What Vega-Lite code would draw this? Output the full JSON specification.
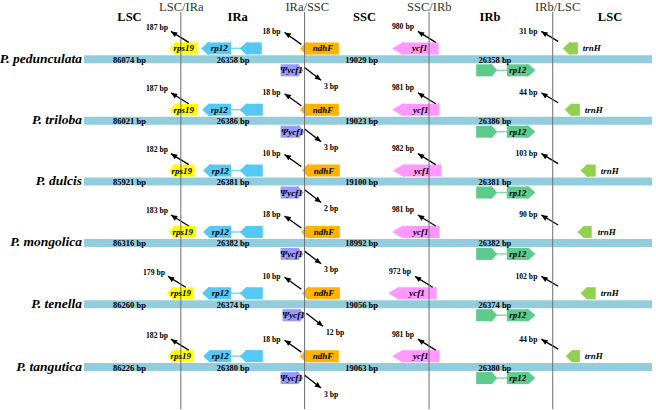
{
  "$schema": "https://vega.github.io/schema/vega-lite/v6.json",
  "width": 656,
  "height": 410,
  "autosize": {"type": "fit", "contains": "padding"},
  "padding": 0,
  "background": "white",
  "config": {"view": {"stroke": null}, "text": {"font": "Liberation Serif", "color": "#000"}},
  "datasets": {
    "rows": [
      {"sp": "P. pedunculata", "y": 59.5, "start": 81, "end": 656},
      {"sp": "P. triloba", "y": 121, "start": 81, "end": 656},
      {"sp": "P. dulcis", "y": 182, "start": 81, "end": 656},
      {"sp": "P. mongolica", "y": 243.5, "start": 81, "end": 656},
      {"sp": "P. tenella", "y": 305, "start": 81, "end": 656},
      {"sp": "P. tangutica", "y": 368, "start": 81, "end": 656}
    ],
    "genes": [
      {"sp": "P. pedunculata", "gene": "rps19", "x1": 173, "x2": 196, "y": 48.5, "tip": 173},
      {"sp": "P. pedunculata", "gene": "rp12a", "x1": 206, "x2": 230, "y": 48.5, "tip": 206},
      {"sp": "P. pedunculata", "gene": "rp12b", "x1": 245, "x2": 261, "y": 48.5, "tip": 245},
      {"sp": "P. pedunculata", "gene": "ndhF", "x1": 305, "x2": 339, "y": 48.5, "tip": 305},
      {"sp": "P. pedunculata", "gene": "psi", "x1": 280, "x2": 298, "y": 70.5, "tip": 298},
      {"sp": "P. pedunculata", "gene": "ycf1", "x1": 403, "x2": 440, "y": 48.5, "tip": 403},
      {"sp": "P. pedunculata", "gene": "rp12g1", "x1": 478, "x2": 494, "y": 70.5, "tip": 494},
      {"sp": "P. pedunculata", "gene": "rp12g2", "x1": 509, "x2": 531, "y": 70.5, "tip": 531},
      {"sp": "P. pedunculata", "gene": "trnH", "x1": 572, "x2": 581, "y": 48.5, "tip": 572},

      {"sp": "P. triloba", "gene": "rps19", "x1": 173, "x2": 196, "y": 110, "tip": 173},
      {"sp": "P. triloba", "gene": "rp12a", "x1": 207, "x2": 230, "y": 110, "tip": 207},
      {"sp": "P. triloba", "gene": "rp12b", "x1": 245, "x2": 262, "y": 110, "tip": 245},
      {"sp": "P. triloba", "gene": "ndhF", "x1": 305, "x2": 339, "y": 110, "tip": 305},
      {"sp": "P. triloba", "gene": "psi", "x1": 280, "x2": 299, "y": 132, "tip": 299},
      {"sp": "P. triloba", "gene": "ycf1", "x1": 403, "x2": 441, "y": 110, "tip": 403},
      {"sp": "P. triloba", "gene": "rp12g1", "x1": 478, "x2": 494, "y": 132, "tip": 494},
      {"sp": "P. triloba", "gene": "rp12g2", "x1": 509, "x2": 531, "y": 132, "tip": 531},
      {"sp": "P. triloba", "gene": "trnH", "x1": 574, "x2": 583, "y": 110, "tip": 574},

      {"sp": "P. dulcis", "gene": "rps19", "x1": 172, "x2": 193, "y": 171, "tip": 172},
      {"sp": "P. dulcis", "gene": "rp12a", "x1": 208, "x2": 230, "y": 171, "tip": 208},
      {"sp": "P. dulcis", "gene": "rp12b", "x1": 245, "x2": 262, "y": 171, "tip": 245},
      {"sp": "P. dulcis", "gene": "ndhF", "x1": 307, "x2": 340, "y": 171, "tip": 307},
      {"sp": "P. dulcis", "gene": "psi", "x1": 280, "x2": 298, "y": 193, "tip": 298},
      {"sp": "P. dulcis", "gene": "ycf1", "x1": 404, "x2": 443, "y": 171, "tip": 404},
      {"sp": "P. dulcis", "gene": "rp12g1", "x1": 478, "x2": 494, "y": 193, "tip": 494},
      {"sp": "P. dulcis", "gene": "rp12g2", "x1": 509, "x2": 531, "y": 193, "tip": 531},
      {"sp": "P. dulcis", "gene": "trnH", "x1": 590, "x2": 599, "y": 171, "tip": 590},

      {"sp": "P. mongolica", "gene": "rps19", "x1": 172, "x2": 194, "y": 232.5, "tip": 172},
      {"sp": "P. mongolica", "gene": "rp12a", "x1": 208, "x2": 230, "y": 232.5, "tip": 208},
      {"sp": "P. mongolica", "gene": "rp12b", "x1": 245, "x2": 262, "y": 232.5, "tip": 245},
      {"sp": "P. mongolica", "gene": "ndhF", "x1": 306, "x2": 340, "y": 232.5, "tip": 306},
      {"sp": "P. mongolica", "gene": "psi", "x1": 280, "x2": 298, "y": 254.5, "tip": 298},
      {"sp": "P. mongolica", "gene": "ycf1", "x1": 403, "x2": 441, "y": 232.5, "tip": 403},
      {"sp": "P. mongolica", "gene": "rp12g1", "x1": 478, "x2": 494, "y": 254.5, "tip": 494},
      {"sp": "P. mongolica", "gene": "rp12g2", "x1": 509, "x2": 531, "y": 254.5, "tip": 531},
      {"sp": "P. mongolica", "gene": "trnH", "x1": 587, "x2": 595, "y": 232.5, "tip": 587},

      {"sp": "P. tenella", "gene": "rps19", "x1": 170, "x2": 192, "y": 294, "tip": 170},
      {"sp": "P. tenella", "gene": "rp12a", "x1": 207, "x2": 230, "y": 294, "tip": 207},
      {"sp": "P. tenella", "gene": "rp12b", "x1": 245, "x2": 262, "y": 294, "tip": 245},
      {"sp": "P. tenella", "gene": "ndhF", "x1": 307, "x2": 340, "y": 294, "tip": 307},
      {"sp": "P. tenella", "gene": "psi", "x1": 282, "x2": 300, "y": 316, "tip": 300},
      {"sp": "P. tenella", "gene": "ycf1", "x1": 399, "x2": 438, "y": 294, "tip": 399},
      {"sp": "P. tenella", "gene": "rp12g1", "x1": 478, "x2": 494, "y": 316, "tip": 494},
      {"sp": "P. tenella", "gene": "rp12g2", "x1": 509, "x2": 531, "y": 316, "tip": 531},
      {"sp": "P. tenella", "gene": "trnH", "x1": 590, "x2": 599, "y": 294, "tip": 590},

      {"sp": "P. tangutica", "gene": "rps19", "x1": 171, "x2": 192, "y": 357, "tip": 171},
      {"sp": "P. tangutica", "gene": "rp12a", "x1": 208, "x2": 230, "y": 357, "tip": 208},
      {"sp": "P. tangutica", "gene": "rp12b", "x1": 245, "x2": 262, "y": 357, "tip": 245},
      {"sp": "P. tangutica", "gene": "ndhF", "x1": 305, "x2": 339, "y": 357, "tip": 305},
      {"sp": "P. tangutica", "gene": "psi", "x1": 280, "x2": 298, "y": 379, "tip": 298},
      {"sp": "P. tangutica", "gene": "ycf1", "x1": 403, "x2": 441, "y": 357, "tip": 403},
      {"sp": "P. tangutica", "gene": "rp12g1", "x1": 478, "x2": 494, "y": 379, "tip": 494},
      {"sp": "P. tangutica", "gene": "rp12g2", "x1": 509, "x2": 531, "y": 379, "tip": 531},
      {"sp": "P. tangutica", "gene": "trnH", "x1": 575, "x2": 583, "y": 357, "tip": 575}
    ],
    "links": [
      {"sp": "P. pedunculata", "kind": "linkA", "x1": 230, "x2": 240, "y": 48.5},
      {"sp": "P. pedunculata", "kind": "linkG", "x1": 498, "x2": 509, "y": 70.5},
      {"sp": "P. triloba", "kind": "linkA", "x1": 230, "x2": 240, "y": 110},
      {"sp": "P. triloba", "kind": "linkG", "x1": 498, "x2": 509, "y": 132},
      {"sp": "P. dulcis", "kind": "linkA", "x1": 230, "x2": 240, "y": 171},
      {"sp": "P. dulcis", "kind": "linkG", "x1": 498, "x2": 509, "y": 193},
      {"sp": "P. mongolica", "kind": "linkA", "x1": 230, "x2": 240, "y": 232.5},
      {"sp": "P. mongolica", "kind": "linkG", "x1": 498, "x2": 509, "y": 254.5},
      {"sp": "P. tenella", "kind": "linkA", "x1": 230, "x2": 240, "y": 294},
      {"sp": "P. tenella", "kind": "linkG", "x1": 498, "x2": 509, "y": 316},
      {"sp": "P. tangutica", "kind": "linkA", "x1": 230, "x2": 240, "y": 357},
      {"sp": "P. tangutica", "kind": "linkG", "x1": 498, "x2": 509, "y": 379}
    ],
    "arrows": [
      {"sp": "P. pedunculata", "dir": "up", "x1": 187, "y1": 42.5, "x2": 169, "y2": 31.5, "text": "187 bp", "lx": 166, "ly": 27.5},
      {"sp": "P. pedunculata", "dir": "up", "x1": 301, "y1": 44.5, "x2": 284, "y2": 32.5, "text": "18 bp", "lx": 280, "ly": 31.5},
      {"sp": "P. pedunculata", "dir": "down", "x1": 304, "y1": 67.5, "x2": 321, "y2": 80.5, "text": "3 bp", "lx": 324, "ly": 86.5},
      {"sp": "P. pedunculata", "dir": "up", "x1": 437, "y1": 42.5, "x2": 419, "y2": 31.5, "text": "980 bp", "lx": 415, "ly": 26.5},
      {"sp": "P. pedunculata", "dir": "up", "x1": 561, "y1": 41.5, "x2": 544, "y2": 31.5, "text": "31 bp", "lx": 540, "ly": 31.5},

      {"sp": "P. triloba", "dir": "up", "x1": 187, "y1": 104, "x2": 169, "y2": 93, "text": "187 bp", "lx": 166, "ly": 89},
      {"sp": "P. triloba", "dir": "up", "x1": 301, "y1": 106, "x2": 284, "y2": 94, "text": "18 bp", "lx": 280, "ly": 93},
      {"sp": "P. triloba", "dir": "down", "x1": 304, "y1": 129, "x2": 321, "y2": 142, "text": "3 bp", "lx": 324, "ly": 148},
      {"sp": "P. triloba", "dir": "up", "x1": 437, "y1": 104, "x2": 419, "y2": 93, "text": "981 bp", "lx": 415, "ly": 88},
      {"sp": "P. triloba", "dir": "up", "x1": 561, "y1": 103, "x2": 544, "y2": 93, "text": "44 bp", "lx": 540, "ly": 93},

      {"sp": "P. dulcis", "dir": "up", "x1": 187, "y1": 165, "x2": 169, "y2": 154, "text": "182 bp", "lx": 166, "ly": 150},
      {"sp": "P. dulcis", "dir": "up", "x1": 301, "y1": 167, "x2": 284, "y2": 155, "text": "10 bp", "lx": 280, "ly": 154},
      {"sp": "P. dulcis", "dir": "down", "x1": 304, "y1": 190, "x2": 321, "y2": 203, "text": "2 bp", "lx": 324, "ly": 209},
      {"sp": "P. dulcis", "dir": "up", "x1": 437, "y1": 165, "x2": 419, "y2": 154, "text": "982 bp", "lx": 415, "ly": 149},
      {"sp": "P. dulcis", "dir": "up", "x1": 561, "y1": 164, "x2": 544, "y2": 154, "text": "103 bp", "lx": 540, "ly": 154},

      {"sp": "P. mongolica", "dir": "up", "x1": 187, "y1": 226.5, "x2": 169, "y2": 215.5, "text": "183 bp", "lx": 166, "ly": 211.5},
      {"sp": "P. mongolica", "dir": "up", "x1": 301, "y1": 228.5, "x2": 284, "y2": 216.5, "text": "18 bp", "lx": 280, "ly": 215.5},
      {"sp": "P. mongolica", "dir": "down", "x1": 304, "y1": 251.5, "x2": 321, "y2": 264.5, "text": "3 bp", "lx": 324, "ly": 270.5},
      {"sp": "P. mongolica", "dir": "up", "x1": 437, "y1": 226.5, "x2": 419, "y2": 215.5, "text": "981 bp", "lx": 415, "ly": 210.5},
      {"sp": "P. mongolica", "dir": "up", "x1": 561, "y1": 225.5, "x2": 544, "y2": 215.5, "text": "90 bp", "lx": 540, "ly": 215.5},

      {"sp": "P. tenella", "dir": "up", "x1": 184, "y1": 288, "x2": 166, "y2": 277, "text": "179 bp", "lx": 163, "ly": 273},
      {"sp": "P. tenella", "dir": "up", "x1": 301, "y1": 290, "x2": 284, "y2": 278, "text": "10 bp", "lx": 280, "ly": 277},
      {"sp": "P. tenella", "dir": "down", "x1": 306, "y1": 314, "x2": 323, "y2": 327, "text": "12 bp", "lx": 326, "ly": 333},
      {"sp": "P. tenella", "dir": "up", "x1": 434, "y1": 288, "x2": 416, "y2": 277, "text": "972 bp", "lx": 412, "ly": 272},
      {"sp": "P. tenella", "dir": "up", "x1": 561, "y1": 287, "x2": 544, "y2": 277, "text": "102 bp", "lx": 540, "ly": 277},

      {"sp": "P. tangutica", "dir": "up", "x1": 187, "y1": 351, "x2": 169, "y2": 340, "text": "182 bp", "lx": 166, "ly": 336},
      {"sp": "P. tangutica", "dir": "up", "x1": 301, "y1": 353, "x2": 284, "y2": 341, "text": "18 bp", "lx": 280, "ly": 340},
      {"sp": "P. tangutica", "dir": "down", "x1": 304, "y1": 376, "x2": 321, "y2": 389, "text": "3 bp", "lx": 324, "ly": 395},
      {"sp": "P. tangutica", "dir": "up", "x1": 437, "y1": 351, "x2": 419, "y2": 340, "text": "981 bp", "lx": 415, "ly": 335},
      {"sp": "P. tangutica", "dir": "up", "x1": 561, "y1": 350, "x2": 544, "y2": 340, "text": "44 bp", "lx": 540, "ly": 340}
    ],
    "glabels": [
      {"sp": "P. pedunculata", "pos": "c", "text": "rps19", "x": 182, "y": 48.5},
      {"sp": "P. pedunculata", "pos": "c", "text": "rp12", "x": 218, "y": 48.5},
      {"sp": "P. pedunculata", "pos": "c", "text": "ndhF", "x": 323, "y": 48.5},
      {"sp": "P. pedunculata", "pos": "c", "text": "Ψycf1", "x": 291, "y": 70.5},
      {"sp": "P. pedunculata", "pos": "c", "text": "ycf1", "x": 421, "y": 48.5},
      {"sp": "P. pedunculata", "pos": "c", "text": "rp12", "x": 520, "y": 70.5},
      {"sp": "P. pedunculata", "pos": "l", "text": "trnH", "x": 586, "y": 48.5},

      {"sp": "P. triloba", "pos": "c", "text": "rps19", "x": 182, "y": 110},
      {"sp": "P. triloba", "pos": "c", "text": "rp12", "x": 218, "y": 110},
      {"sp": "P. triloba", "pos": "c", "text": "ndhF", "x": 323, "y": 110},
      {"sp": "P. triloba", "pos": "c", "text": "Ψycf1", "x": 292, "y": 132},
      {"sp": "P. triloba", "pos": "c", "text": "ycf1", "x": 422, "y": 110},
      {"sp": "P. triloba", "pos": "c", "text": "rp12", "x": 520, "y": 132},
      {"sp": "P. triloba", "pos": "l", "text": "trnH", "x": 588, "y": 110},

      {"sp": "P. dulcis", "pos": "c", "text": "rps19", "x": 180, "y": 171},
      {"sp": "P. dulcis", "pos": "c", "text": "rp12", "x": 219, "y": 171},
      {"sp": "P. dulcis", "pos": "c", "text": "ndhF", "x": 324, "y": 171},
      {"sp": "P. dulcis", "pos": "c", "text": "Ψycf1", "x": 291, "y": 193},
      {"sp": "P. dulcis", "pos": "c", "text": "ycf1", "x": 423, "y": 171},
      {"sp": "P. dulcis", "pos": "c", "text": "rp12", "x": 520, "y": 193},
      {"sp": "P. dulcis", "pos": "l", "text": "trnH", "x": 604, "y": 171},

      {"sp": "P. mongolica", "pos": "c", "text": "rps19", "x": 181, "y": 232.5},
      {"sp": "P. mongolica", "pos": "c", "text": "rp12", "x": 219, "y": 232.5},
      {"sp": "P. mongolica", "pos": "c", "text": "ndhF", "x": 324, "y": 232.5},
      {"sp": "P. mongolica", "pos": "c", "text": "Ψycf1", "x": 291, "y": 254.5},
      {"sp": "P. mongolica", "pos": "c", "text": "ycf1", "x": 422, "y": 232.5},
      {"sp": "P. mongolica", "pos": "c", "text": "rp12", "x": 520, "y": 254.5},
      {"sp": "P. mongolica", "pos": "l", "text": "trnH", "x": 601, "y": 232.5},

      {"sp": "P. tenella", "pos": "c", "text": "rps19", "x": 179, "y": 294},
      {"sp": "P. tenella", "pos": "c", "text": "rp12", "x": 219, "y": 294},
      {"sp": "P. tenella", "pos": "c", "text": "ndhF", "x": 324, "y": 294},
      {"sp": "P. tenella", "pos": "c", "text": "Ψycf1", "x": 293, "y": 316},
      {"sp": "P. tenella", "pos": "c", "text": "ycf1", "x": 418, "y": 294},
      {"sp": "P. tenella", "pos": "c", "text": "rp12", "x": 520, "y": 316},
      {"sp": "P. tenella", "pos": "l", "text": "trnH", "x": 604, "y": 294},

      {"sp": "P. tangutica", "pos": "c", "text": "rps19", "x": 179, "y": 357},
      {"sp": "P. tangutica", "pos": "c", "text": "rp12", "x": 219, "y": 357},
      {"sp": "P. tangutica", "pos": "c", "text": "ndhF", "x": 323, "y": 357},
      {"sp": "P. tangutica", "pos": "c", "text": "Ψycf1", "x": 291, "y": 379},
      {"sp": "P. tangutica", "pos": "c", "text": "ycf1", "x": 422, "y": 357},
      {"sp": "P. tangutica", "pos": "c", "text": "rp12", "x": 520, "y": 379},
      {"sp": "P. tangutica", "pos": "l", "text": "trnH", "x": 588, "y": 357}
    ],
    "lengths": [
      {"sp": "P. pedunculata", "text": "86074 bp", "x": 127, "y": 60},
      {"sp": "P. pedunculata", "text": "26358 bp", "x": 232, "y": 60},
      {"sp": "P. pedunculata", "text": "19029 bp", "x": 362, "y": 60},
      {"sp": "P. pedunculata", "text": "26358 bp", "x": 497, "y": 60},
      {"sp": "P. triloba", "text": "86021 bp", "x": 127, "y": 121.5},
      {"sp": "P. triloba", "text": "26386 bp", "x": 232, "y": 121.5},
      {"sp": "P. triloba", "text": "19023 bp", "x": 362, "y": 121.5},
      {"sp": "P. triloba", "text": "26386 bp", "x": 497, "y": 121.5},
      {"sp": "P. dulcis", "text": "85921 bp", "x": 127, "y": 182.5},
      {"sp": "P. dulcis", "text": "26381 bp", "x": 232, "y": 182.5},
      {"sp": "P. dulcis", "text": "19100 bp", "x": 362, "y": 182.5},
      {"sp": "P. dulcis", "text": "26381 bp", "x": 497, "y": 182.5},
      {"sp": "P. mongolica", "text": "86316 bp", "x": 127, "y": 244},
      {"sp": "P. mongolica", "text": "26382 bp", "x": 232, "y": 244},
      {"sp": "P. mongolica", "text": "18992 bp", "x": 362, "y": 244},
      {"sp": "P. mongolica", "text": "26382 bp", "x": 497, "y": 244},
      {"sp": "P. tenella", "text": "86260 bp", "x": 127, "y": 305.5},
      {"sp": "P. tenella", "text": "26374 bp", "x": 232, "y": 305.5},
      {"sp": "P. tenella", "text": "19056 bp", "x": 362, "y": 305.5},
      {"sp": "P. tenella", "text": "26374 bp", "x": 497, "y": 305.5},
      {"sp": "P. tangutica", "text": "86226 bp", "x": 127, "y": 368.5},
      {"sp": "P. tangutica", "text": "26380 bp", "x": 232, "y": 368.5},
      {"sp": "P. tangutica", "text": "19063 bp", "x": 362, "y": 368.5},
      {"sp": "P. tangutica", "text": "26380 bp", "x": 497, "y": 368.5}
    ],
    "bounds": [
      {"name": "LSC/IRa", "x": 179, "top": 12, "bottom": 410, "hx": 179.5, "hy": 11.5},
      {"name": "IRa/SSC", "x": 304.3, "top": 12, "bottom": 410, "hx": 307, "hy": 11.5},
      {"name": "SSC/IRb", "x": 430.3, "top": 12, "bottom": 410, "hx": 430.5, "hy": 11.5},
      {"name": "IRb/LSC", "x": 555.5, "top": 12, "bottom": 410, "hx": 560.5, "hy": 11.5}
    ],
    "regions": [
      {"name": "LSC", "x": 127, "y": 21.5},
      {"name": "IRa", "x": 236.5, "y": 21.5},
      {"name": "SSC", "x": 365, "y": 21.5},
      {"name": "IRb", "x": 492, "y": 21.5},
      {"name": "LSC", "x": 613.5, "y": 21.5}
    ]
  },
  "layer": [
    {
      "data": {"name": "rows"},
      "mark": {"type": "rule", "strokeWidth": 8, "strokeCap": "butt", "color": "#93CDDD"},
      "encoding": {
        "x": {"field": "start", "type": "quantitative", "scale": {"domain": [0, 656], "nice": false, "zero": false}, "axis": null},
        "x2": {"field": "end"},
        "y": {"field": "y", "type": "quantitative", "scale": {"domain": [0, 410], "reverse": true, "nice": false, "zero": false}, "axis": null}
      }
    },
    {
      "data": {"name": "links"},
      "mark": {"type": "rule", "strokeWidth": 1.5, "strokeCap": "butt"},
      "encoding": {
        "x": {"field": "x1", "type": "quantitative", "scale": {"domain": [0, 656], "nice": false, "zero": false}, "axis": null},
        "x2": {"field": "x2"},
        "y": {"field": "y", "type": "quantitative", "scale": {"domain": [0, 410], "reverse": true, "nice": false, "zero": false}, "axis": null},
        "color": {"field": "kind", "type": "nominal", "scale": {"domain": ["rps19", "rp12a", "rp12b", "ndhF", "psi", "ycf1", "rp12g1", "rp12g2", "trnH", "linkA", "linkG"], "range": ["#FFFF00", "#55C8F5", "#55C8F5", "#FFB300", "#9999FF", "#FF99FF", "#5DCB8C", "#5DCB8C", "#92D050", "#7FD6F7", "#86DBA8"]}, "legend": null}
      }
    },
    {
      "data": {"name": "genes"},
      "mark": {"type": "rule", "strokeWidth": 12, "strokeCap": "butt"},
      "encoding": {
        "x": {"field": "x1", "type": "quantitative", "scale": {"domain": [0, 656], "nice": false, "zero": false}, "axis": null},
        "x2": {"field": "x2"},
        "y": {"field": "y", "type": "quantitative", "scale": {"domain": [0, 410], "reverse": true, "nice": false, "zero": false}, "axis": null},
        "color": {"field": "gene", "type": "nominal", "scale": {"domain": ["rps19", "rp12a", "rp12b", "ndhF", "psi", "ycf1", "rp12g1", "rp12g2", "trnH", "linkA", "linkG"], "range": ["#FFFF00", "#55C8F5", "#55C8F5", "#FFB300", "#9999FF", "#FF99FF", "#5DCB8C", "#5DCB8C", "#92D050", "#7FD6F7", "#86DBA8"]}, "legend": null}
      }
    },
    {
      "data": {"name": "genes"},
      "mark": {"type": "point", "filled": true, "size": 144, "opacity": 1, "strokeWidth": 0},
      "encoding": {
        "x": {"field": "tip", "type": "quantitative", "scale": {"domain": [0, 656], "nice": false, "zero": false}, "axis": null},
        "y": {"field": "y", "type": "quantitative", "scale": {"domain": [0, 410], "reverse": true, "nice": false, "zero": false}, "axis": null},
        "color": {"field": "gene", "type": "nominal", "scale": {"domain": ["rps19", "rp12a", "rp12b", "ndhF", "psi", "ycf1", "rp12g1", "rp12g2", "trnH", "linkA", "linkG"], "range": ["#FFFF00", "#55C8F5", "#55C8F5", "#FFB300", "#9999FF", "#FF99FF", "#5DCB8C", "#5DCB8C", "#92D050", "#7FD6F7", "#86DBA8"]}, "legend": null},
        "shape": {"field": "gene", "type": "nominal", "legend": null, "scale": {"domain": ["rps19", "rp12a", "rp12b", "ndhF", "psi", "ycf1", "rp12g1", "rp12g2", "trnH"], "range": [
          "M0.4,-1L0,-1L-0.85,0L0,1L0.4,1Z",
          "M0.4,-1L0,-1L-1.05,0L0,1L0.4,1Z",
          "M0.4,-1L0,-1L-1.05,0L0,1L0.4,1Z",
          "M0.4,-1L0,-1L-0.85,0L0,1L0.4,1Z",
          "M-0.4,-1L0,-1L0.85,0L0,1L-0.4,1Z",
          "M0.4,-1L0,-1L-1.65,0L0,1L0.4,1Z",
          "M-0.4,-1L0,-1L0.85,0L0,1L-0.4,1Z",
          "M-0.4,-1L0,-1L1.15,0L0,1L-0.4,1Z",
          "M0.4,-1L0,-1L-1.05,0L0,1L0.4,1Z"
        ]}}
      }
    },
    {
      "data": {"name": "arrows"},
      "mark": {"type": "rule", "strokeWidth": 1.3, "color": "#000"},
      "encoding": {
        "x": {"field": "x1", "type": "quantitative", "scale": {"domain": [0, 656], "nice": false, "zero": false}, "axis": null},
        "x2": {"field": "x2"},
        "y": {"field": "y1", "type": "quantitative", "scale": {"domain": [0, 410], "reverse": true, "nice": false, "zero": false}, "axis": null},
        "y2": {"field": "y2"}
      }
    },
    {
      "data": {"name": "arrows"},
      "transform": [{"filter": "datum.dir === 'up'"}],
      "mark": {"type": "point", "filled": true, "opacity": 1, "size": 70, "color": "#000", "strokeWidth": 0, "angle": -57, "shape": "M0,0L-0.65,1.5L0.65,1.5Z"},
      "encoding": {
        "x": {"field": "x2", "type": "quantitative", "scale": {"domain": [0, 656], "nice": false, "zero": false}, "axis": null},
        "y": {"field": "y2", "type": "quantitative", "scale": {"domain": [0, 410], "reverse": true, "nice": false, "zero": false}, "axis": null}
      }
    },
    {
      "data": {"name": "arrows"},
      "transform": [{"filter": "datum.dir === 'down'"}],
      "mark": {"type": "point", "filled": true, "opacity": 1, "size": 70, "color": "#000", "strokeWidth": 0, "angle": 127, "shape": "M0,0L-0.65,1.5L0.65,1.5Z"},
      "encoding": {
        "x": {"field": "x2", "type": "quantitative", "scale": {"domain": [0, 656], "nice": false, "zero": false}, "axis": null},
        "y": {"field": "y2", "type": "quantitative", "scale": {"domain": [0, 410], "reverse": true, "nice": false, "zero": false}, "axis": null}
      }
    },
    {
      "data": {"name": "bounds"},
      "mark": {"type": "rule", "strokeWidth": 1, "color": "#6E6E6E"},
      "encoding": {
        "x": {"field": "x", "type": "quantitative", "scale": {"domain": [0, 656], "nice": false, "zero": false}, "axis": null},
        "y": {"field": "top", "type": "quantitative", "scale": {"domain": [0, 410], "reverse": true, "nice": false, "zero": false}, "axis": null},
        "y2": {"field": "bottom"}
      }
    },
    {
      "data": {"name": "bounds"},
      "mark": {"type": "text", "fontSize": 12.5, "color": "#333", "align": "center", "baseline": "alphabetic"},
      "encoding": {
        "x": {"field": "hx", "type": "quantitative", "scale": {"domain": [0, 656], "nice": false, "zero": false}, "axis": null},
        "y": {"field": "hy", "type": "quantitative", "scale": {"domain": [0, 410], "reverse": true, "nice": false, "zero": false}, "axis": null},
        "text": {"field": "name"}
      }
    },
    {
      "data": {"name": "regions"},
      "mark": {"type": "text", "fontSize": 12.5, "fontWeight": "bold", "align": "center", "baseline": "alphabetic"},
      "encoding": {
        "x": {"field": "x", "type": "quantitative", "scale": {"domain": [0, 656], "nice": false, "zero": false}, "axis": null},
        "y": {"field": "y", "type": "quantitative", "scale": {"domain": [0, 410], "reverse": true, "nice": false, "zero": false}, "axis": null},
        "text": {"field": "name"}
      }
    },
    {
      "data": {"name": "rows"},
      "mark": {"type": "text", "fontSize": 13.5, "fontWeight": "bold", "fontStyle": "italic", "align": "right", "baseline": "alphabetic", "dx": -2, "dy": 3.5},
      "encoding": {
        "x": {"field": "start", "type": "quantitative", "scale": {"domain": [0, 656], "nice": false, "zero": false}, "axis": null},
        "y": {"field": "y", "type": "quantitative", "scale": {"domain": [0, 410], "reverse": true, "nice": false, "zero": false}, "axis": null},
        "text": {"field": "sp"}
      }
    },
    {
      "data": {"name": "lengths"},
      "mark": {"type": "text", "fontSize": 8.5, "fontWeight": "bold", "align": "center", "baseline": "alphabetic", "dy": 3},
      "encoding": {
        "x": {"field": "x", "type": "quantitative", "scale": {"domain": [0, 656], "nice": false, "zero": false}, "axis": null},
        "y": {"field": "y", "type": "quantitative", "scale": {"domain": [0, 410], "reverse": true, "nice": false, "zero": false}, "axis": null},
        "text": {"field": "text"}
      }
    },
    {
      "data": {"name": "glabels"},
      "transform": [{"filter": "datum.pos === 'c'"}],
      "mark": {"type": "text", "fontSize": 9, "fontWeight": "bold", "fontStyle": "italic", "align": "center", "baseline": "alphabetic", "dy": 3},
      "encoding": {
        "x": {"field": "x", "type": "quantitative", "scale": {"domain": [0, 656], "nice": false, "zero": false}, "axis": null},
        "y": {"field": "y", "type": "quantitative", "scale": {"domain": [0, 410], "reverse": true, "nice": false, "zero": false}, "axis": null},
        "text": {"field": "text"}
      }
    },
    {
      "data": {"name": "glabels"},
      "transform": [{"filter": "datum.pos === 'l'"}],
      "mark": {"type": "text", "fontSize": 9, "fontWeight": "bold", "fontStyle": "italic", "align": "left", "baseline": "alphabetic", "dy": 3},
      "encoding": {
        "x": {"field": "x", "type": "quantitative", "scale": {"domain": [0, 656], "nice": false, "zero": false}, "axis": null},
        "y": {"field": "y", "type": "quantitative", "scale": {"domain": [0, 410], "reverse": true, "nice": false, "zero": false}, "axis": null},
        "text": {"field": "text"}
      }
    },
    {
      "data": {"name": "arrows"},
      "transform": [{"filter": "datum.dir === 'up'"}],
      "mark": {"type": "text", "fontSize": 7.7, "fontWeight": "bold", "align": "right", "baseline": "alphabetic", "dy": 2.5},
      "encoding": {
        "x": {"field": "lx", "type": "quantitative", "scale": {"domain": [0, 656], "nice": false, "zero": false}, "axis": null},
        "y": {"field": "ly", "type": "quantitative", "scale": {"domain": [0, 410], "reverse": true, "nice": false, "zero": false}, "axis": null},
        "text": {"field": "text"}
      }
    },
    {
      "data": {"name": "arrows"},
      "transform": [{"filter": "datum.dir === 'down'"}],
      "mark": {"type": "text", "fontSize": 7.7, "fontWeight": "bold", "align": "left", "baseline": "alphabetic", "dy": 2.5},
      "encoding": {
        "x": {"field": "lx", "type": "quantitative", "scale": {"domain": [0, 656], "nice": false, "zero": false}, "axis": null},
        "y": {"field": "ly", "type": "quantitative", "scale": {"domain": [0, 410], "reverse": true, "nice": false, "zero": false}, "axis": null},
        "text": {"field": "text"}
      }
    }
  ]
}
